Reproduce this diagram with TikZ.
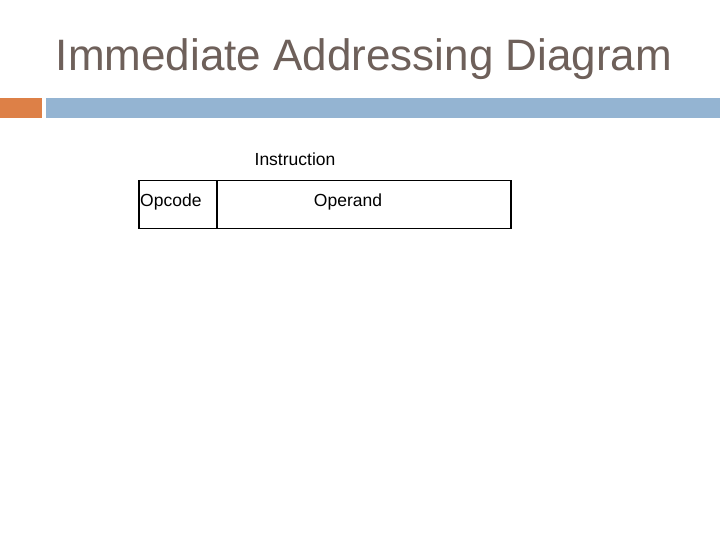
\documentclass[tikz,border=0pt]{standalone}
\usepackage{fontspec}
\setmainfont{Liberation Sans}
\definecolor{titlecol}{RGB}{110,96,90}
\definecolor{barorange}{RGB}{221,128,71}
\definecolor{barblue}{RGB}{148,180,210}
\begin{document}
\begin{tikzpicture}[x=1pt,y=-1pt,
  cell/.style={draw=black,line width=1.5pt,minimum height=48pt,inner sep=0pt,anchor=north west},
  lbl/.style={font=\fontsize{17.5}{20}\selectfont,text=black,inner sep=0pt}]
\useasboundingbox (0,0) rectangle (720,540);
\fill[barorange] (0,98) rectangle (42,118);
\fill[barblue] (46,98) rectangle (720,118);
\node[text=titlecol,font=\fontsize{44}{50}\selectfont,inner sep=0pt] (title) at (364,59) {Immediate Addressing Diagram};
\node[lbl] (instr) at (295,159) {Instruction};
\node[cell,minimum width=78pt] (opc) at (138,180) {};
\node[cell,minimum width=294pt] (opd) at (216,180) {};
\node[lbl,anchor=west] (opctext) at (140,202) {Opcode};
\node[lbl] (opdtext) at (348,202) {Operand};
\end{tikzpicture}
\end{document}
